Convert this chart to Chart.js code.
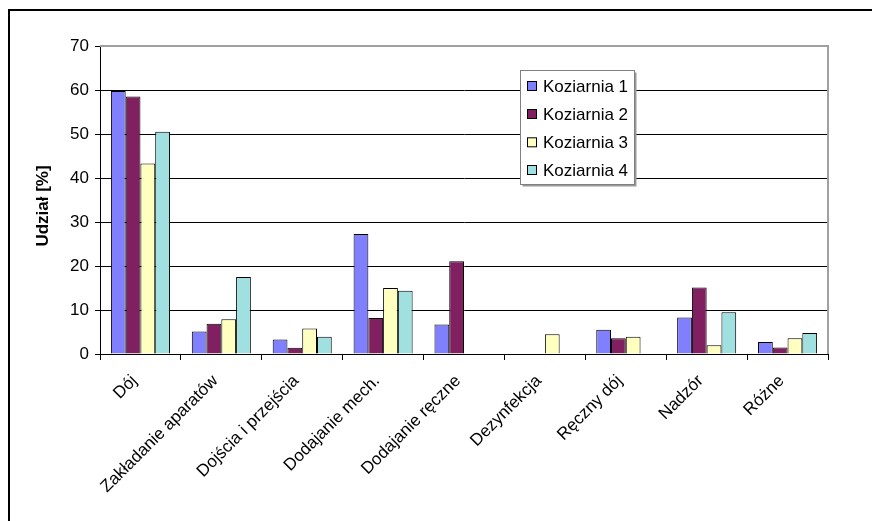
<!DOCTYPE html>
<html>
<head>
<meta charset="utf-8">
<script src="https://cdn.jsdelivr.net/npm/chart.js@4"></script>
<style>
html,body{margin:0;padding:0;background:#fff;}
#wrap{width:872px;height:521px;position:relative;}
</style>
</head>
<body>
<div id="wrap"><canvas id="c" width="872" height="521"></canvas></div>
<script>
const categories = ['Dój','Zakładanie aparatów','Dojścia i przejścia','Dodajanie mech.','Dodajanie ręczne','Dezynfekcja','Ręczny dój','Nadzór','Różne'];
const seriesNames = ['Koziarnia 1','Koziarnia 2','Koziarnia 3','Koziarnia 4'];
const koziarnia1 = [59.8, 5.1, 3.3, 27.3, 6.7, 0, 5.5, 8.3, 2.7];
const koziarnia2 = [58.5, 6.9, 1.4, 8.2, 21.1, 0, 3.6, 15.1, 1.5];
const koziarnia3 = [43.3, 7.9, 5.8, 15.0, 0, 4.5, 3.9, 2.0, 3.6];
const koziarnia4 = [50.5, 17.5, 3.9, 14.4, 0, 0, 0, 9.5, 4.8];
const yTicks = [0,10,20,30,40,50,60,70];
const yTitle = 'Udział [%]';

const colors = ['#8080ff','#802060','#ffffc0','#a0e0e0'];
const seriesData = [koziarnia1,koziarnia2,koziarnia3,koziarnia4];
const FONT = '"Liberation Sans", Arial, sans-serif';

const framePlugin = {
  id:'frame',
  afterDraw(chart){
    const ctx = chart.ctx, a = chart.chartArea;
    ctx.save();
    // outer frame
    ctx.strokeStyle = '#000'; ctx.lineWidth = 2;
    ctx.beginPath();
    ctx.moveTo(9, 530); ctx.lineTo(9, 10); ctx.lineTo(880, 10);
    ctx.stroke();
    // plot area border top/right
    ctx.strokeStyle = '#a0a0a0'; ctx.lineWidth = 2;
    ctx.beginPath();
    ctx.moveTo(a.left, a.top); ctx.lineTo(a.right, a.top); ctx.lineTo(a.right, a.bottom);
    ctx.stroke();
    // y axis title
    ctx.save();
    ctx.translate(43, 206);
    ctx.rotate(-Math.PI/2);
    ctx.font = 'bold 17px ' + FONT;
    ctx.fillStyle = '#000';
    ctx.textAlign = 'center';
    ctx.textBaseline = 'middle';
    ctx.fillText(yTitle, 0, 0);
    ctx.restore();
    // legend
    const lx = 520.5, ly = 70.5, lw = 114, lh = 114;
    ctx.fillStyle = '#9a9a9a';
    ctx.fillRect(lx+2, ly+2, lw, lh);
    ctx.fillStyle = '#fff';
    ctx.fillRect(lx, ly, lw, lh);
    ctx.strokeStyle = '#808080'; ctx.lineWidth = 1;
    ctx.strokeRect(lx, ly, lw, lh);
    ctx.font = '17px ' + FONT;
    ctx.textBaseline = 'middle';
    ctx.textAlign = 'left';
    const ys = [86, 114, 142.3, 170];
    chart.data.datasets.forEach((ds, i) => {
      ctx.fillStyle = ds.backgroundColor;
      ctx.fillRect(527.5, ys[i]-4.5, 9, 9);
      ctx.strokeStyle = '#000';
      ctx.strokeRect(527.5, ys[i]-4.5, 9, 9);
      ctx.fillStyle = '#000';
      ctx.fillText(ds.label, 543, ys[i]+1);
    });
    ctx.restore();
  }
};

new Chart(document.getElementById('c'), {
  type:'bar',
  data:{
    labels: categories,
    datasets: seriesNames.map((n,i)=>({
      label:n, data:seriesData[i], backgroundColor:colors[i],
      borderColor:'#000', borderWidth:1,
      categoryPercentage:0.73, barPercentage:1.0
    }))
  },
  options:{
    responsive:false, animation:false,
    devicePixelRatio:1,
    layout:{padding:{left:0, top:46, right:44, bottom:0}},
    plugins:{legend:{display:false}, tooltip:{enabled:false}},
    scales:{
      x:{
        grid:{display:true, offset:true, drawOnChartArea:false, drawTicks:true, tickLength:6, color:'#000'},
        border:{display:true, color:'#000', width:1},
        ticks:{color:'#000', font:{family:FONT, size:17}, minRotation:45, maxRotation:45, autoSkip:false, padding:11, labelOffset:-6},
        afterFit(s){ s.height = 167; }
      },
      y:{
        min:0, max:70,
        afterBuildTicks(s){ s.ticks = yTicks.map(v=>({value:v})); },
        grid:{color:'#000', lineWidth:1, drawTicks:true, tickLength:5},
        border:{display:true, color:'#000', width:1},
        ticks:{color:'#000', font:{family:FONT, size:17}, padding:6},
        afterFit(s){ s.width = 100; }
      }
    }
  },
  plugins:[framePlugin]
});
</script>
</body>
</html>
